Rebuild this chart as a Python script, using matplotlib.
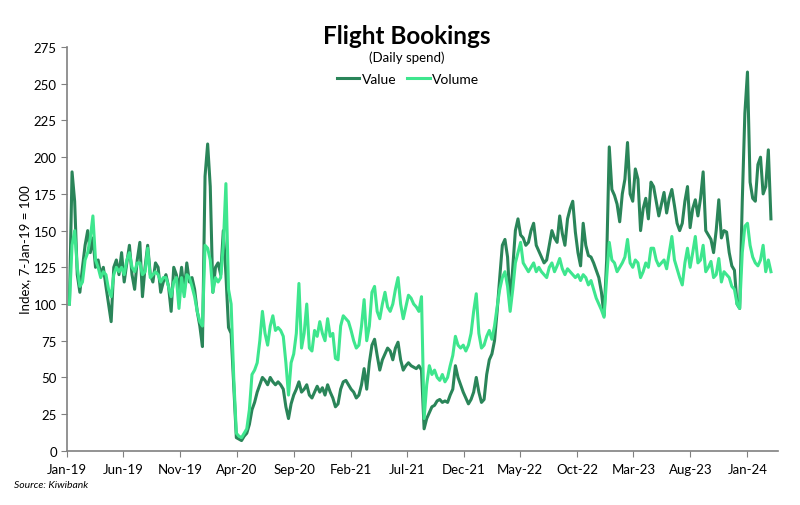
import numpy as np
import pandas as pd
import matplotlib
matplotlib.use("Agg")
import matplotlib.pyplot as plt

# weekly readings, first week = 7-Jan-19
value_2019 = [100, 190, 170, 120, 108, 125, 140, 150, 135, 145,
              125, 130, 120, 125, 112, 100, 88, 125, 130, 120,
              135, 115, 128, 140, 120, 110, 130, 142, 105, 125,
              140, 120, 115, 128, 125, 108, 115, 120, 112, 95,
              125, 120, 110, 125, 108, 128, 115, 118, 110, 95,
              85, 71]
volume_2019 = [100, 140, 150, 125, 112, 115, 130, 135, 145, 160,
               130, 125, 118, 122, 120, 110, 105, 120, 125, 122,
               125, 120, 130, 135, 125, 122, 128, 128, 120, 122,
               138, 118, 120, 122, 120, 115, 118, 118, 112, 105,
               115, 118, 97, 118, 105, 120, 118, 112, 105, 95,
               88, 85]

value_2020 = [187, 209, 180, 108, 125, 128, 120, 150, 120, 84,
              80, 45, 9, 8, 7, 10, 12, 18, 28, 33,
              40, 45, 50, 48, 45, 50, 47, 45, 47, 45,
              42, 30, 22, 32, 38, 42, 47, 40, 42, 45,
              38, 36, 40, 44, 40, 43, 38, 45, 40, 36,
              30, 32]
volume_2020 = [140, 138, 130, 108, 118, 115, 118, 140, 182, 110,
               100, 50, 12, 10, 9, 12, 15, 28, 52, 55,
               60, 75, 95, 80, 72, 85, 92, 82, 84, 82,
               78, 60, 38, 60, 66, 80, 114, 70, 80, 100,
               70, 68, 82, 78, 88, 80, 75, 90, 78, 80,
               63, 62]

value_2021 = [42, 47, 48, 45, 42, 40, 36, 38, 45, 56,
              42, 60, 72, 76, 65, 55, 62, 66, 70, 68,
              62, 70, 74, 62, 55, 58, 60, 58, 57, 56,
              58, 55, 15, 22, 26, 30, 31, 34, 35, 33,
              34, 33, 38, 42, 58, 50, 45, 40, 36, 32,
              35, 40]
volume_2021 = [85, 92, 90, 88, 82, 75, 70, 72, 85, 103,
               75, 85, 108, 112, 95, 90, 100, 108, 98, 95,
               100, 110, 118, 100, 90, 98, 106, 104, 100, 98,
               95, 105, 22, 45, 58, 52, 55, 50, 48, 52,
               47, 50, 58, 65, 78, 72, 70, 72, 68, 72,
               80, 95]

value_2022 = [50, 40, 33, 35, 52, 62, 66, 75, 95, 118,
              140, 144, 132, 100, 125, 150, 158, 147, 145, 140,
              142, 150, 155, 140, 136, 132, 128, 130, 140, 150,
              145, 142, 160, 148, 140, 158, 165, 170, 149, 135,
              126, 155, 140, 133, 132, 128, 123, 118, 108, 92,
              130, 207]
volume_2022 = [107, 80, 70, 72, 78, 82, 76, 85, 98, 110,
               118, 122, 112, 95, 110, 128, 135, 142, 128, 125,
               122, 125, 128, 122, 125, 122, 120, 118, 125, 128,
               122, 126, 131, 124, 120, 124, 122, 120, 118, 120,
               116, 120, 118, 113, 116, 110, 104, 100, 96, 91,
               118, 142]

value_2023 = [178, 174, 168, 156, 175, 185, 210, 175, 170, 192,
              185, 150, 165, 172, 158, 183, 180, 170, 160, 168,
              176, 162, 172, 178, 167, 155, 150, 155, 170, 180,
              152, 165, 171, 160, 172, 190, 150, 147, 144, 135,
              150, 171, 145, 150, 149, 135, 126, 123, 100, 97,
              170, 230]
volume_2023 = [130, 128, 122, 125, 128, 132, 144, 128, 125, 130,
               128, 118, 122, 128, 125, 138, 138, 130, 126, 128,
               130, 124, 135, 146, 130, 124, 118, 113, 128, 138,
               125, 135, 146, 128, 130, 140, 122, 125, 129, 118,
               120, 131, 115, 122, 120, 118, 112, 110, 100, 97,
               135, 153]

value_2024 = [258, 183, 172, 170, 195, 200, 175, 180, 205, 158]
volume_2024 = [155, 140, 132, 128, 126, 130, 140, 122, 130, 122]

tick_labels = ["Jan-19", "Jun-19", "Nov-19", "Apr-20", "Sep-20", "Feb-21", "Jul-21",
               "Dec-21", "May-22", "Oct-22", "Mar-23", "Aug-23", "Jan-24"]

value = value_2019 + value_2020 + value_2021 + value_2022 + value_2023 + value_2024
volume = volume_2019 + volume_2020 + volume_2021 + volume_2022 + volume_2023 + volume_2024
dates = pd.date_range("2019-01-07", periods=len(value), freq="7D")

col_value = "#2a8559"
col_volume = "#3ee68e"
grey = "#808080"

plt.rcParams["font.family"] = ["Lato", "DejaVu Sans"]

fig = plt.figure(figsize=(8, 5.06), dpi=100)
ax = fig.add_axes([0.084, 0.107, 0.889, 0.798])

ax.plot(dates, value, color=col_value, lw=2.2, label="Value")
ax.plot(dates, volume, color=col_volume, lw=2.2, label="Volume")

ax.set_ylim(0, 275)
ax.set_yticks(np.arange(0, 276, 25))
ax.set_xlim(pd.Timestamp("2019-01-01"), pd.Timestamp("2024-03-24"))
ticks = [pd.to_datetime(t, format="%b-%y") for t in tick_labels]
ax.set_xticks(ticks)
ax.set_xticklabels(tick_labels)

for s in ["top", "right"]:
    ax.spines[s].set_visible(False)
for s in ["left", "bottom"]:
    ax.spines[s].set_color(grey)
    ax.spines[s].set_linewidth(1.2)
ax.tick_params(axis="both", colors=grey, labelcolor="black", labelsize=9.5, length=4)
ax.tick_params(axis="x", pad=5)

ax.set_ylabel("Index, 7-Jan-19 = 100", fontsize=9.5, labelpad=2)

fig.text(0.509, 0.928, "Flight Bookings", ha="center", va="center", fontsize=17.5, fontweight="bold")
fig.text(0.509, 0.885, "(Daily spend)", ha="center", va="center", fontsize=9.5)
fig.legend(loc="center", bbox_to_anchor=(0.51, 0.842), ncol=2, frameon=False, fontsize=10,
           handlelength=1.6, handletextpad=0.2, columnspacing=0.8)
fig.text(0.018, 0.036, "Source: Kiwibank", fontsize=7.5, style="italic")

fig.savefig("out.png", dpi=100)
